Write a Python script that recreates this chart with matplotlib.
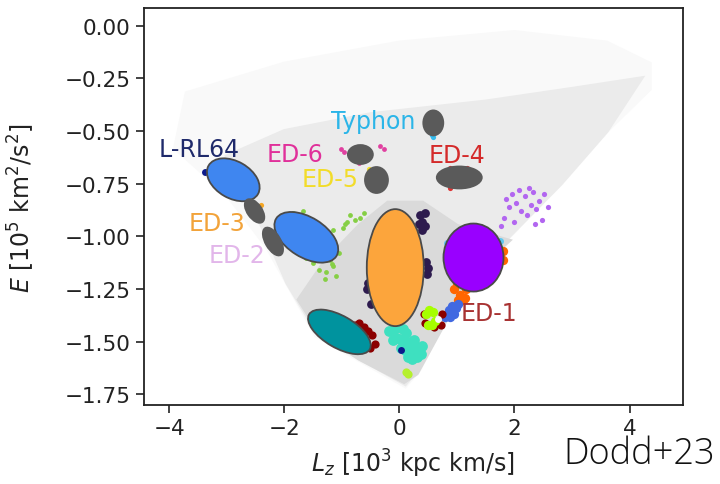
#!/usr/bin/env python3
"""
E-Lz plane with the halo substructures of Dodd+23, ellipses marking the groups.
Writes out.png (720x485).
"""

import matplotlib
matplotlib.use("Agg")
import matplotlib.pyplot as plt
import matplotlib.transforms as mtransforms
from matplotlib.patches import Ellipse, Polygon

# ---- halo background (envelope, outer -> inner) ----
halo_faint_x = [0.10, -1.45, -2.3, -3.0, -3.9, -3.7, -2.0, 0.0, 2.0, 3.6, 4.35, 4.35, 3.6, 2.8, 1.9, 1.0, 0.35]
halo_faint_y = [-1.71, -1.47, -1.05, -0.80, -0.58, -0.32, -0.18, -0.08, -0.03, -0.08, -0.18, -0.3, -0.5, -0.75, -1.0, -1.27, -1.63]
halo_mid_x = [0.10, -1.40, -1.95, -2.3, -2.7, -3.0, -2.0, -0.5, 1.5, 3.0, 4.2, 3.6, 2.8, 1.9, 1.05, 0.35]
halo_mid_y = [-1.70, -1.47, -1.22, -1.0, -0.78, -0.62, -0.50, -0.42, -0.36, -0.30, -0.25, -0.5, -0.75, -1.0, -1.25, -1.62]
halo_core_x = [0.08, -0.7, -1.4, -1.75, -1.3, -0.7, -0.2, 0.4, 1.0, 1.9, 1.5, 1.0, 0.30]
halo_core_y = [-1.69, -1.58, -1.45, -1.30, -1.12, -0.95, -0.84, -0.84, -0.95, -1.02, -1.12, -1.30, -1.65]

# ---- coloured member stars (x = Lz, y = E) ----
green_x = [-1.85, -1.75, -1.67, -1.62, -1.50, -1.40, -1.27, -1.21, -1.15, -1.10, -1.12, -1.06,
           -0.98, -0.92, -0.86, -0.78, -0.69, -0.62, -1.16, -1.30, -1.18, -0.95]
green_y = [-0.89, -0.92, -0.88, -1.10, -1.125, -1.16, -1.17, -1.11, -1.14, -1.19, -1.05, -1.08,
           -0.96, -0.93, -0.90, -0.92, -0.91, -0.89, -0.97, -1.20, -1.13, -0.94]
dkpurple_x = [0.36, 0.40, 0.44, 0.40, 0.34, 0.45, 0.46, 0.49, 0.47, -0.57, -0.54, -0.49]
dkpurple_y = [-0.90, -0.93, -0.95, -0.97, -0.94, -0.89, -1.12, -1.15, -1.18, -1.25, -1.22, -1.32]
ltpurple_x = [1.76, 1.82, 1.90, 1.95, 2.02, 2.08, 2.12, 2.18, 2.22, 2.28, 2.33, 2.38, 2.42, 2.48,
              2.52, 2.58, 1.86, 2.00, 2.25, 2.36]
ltpurple_y = [-0.95, -0.91, -0.86, -0.80, -0.84, -0.78, -0.88, -0.81, -0.90, -0.85, -0.79, -0.87,
              -0.83, -0.92, -0.80, -0.86, -0.82, -0.93, -0.77, -0.94]
orange_x = [0.95, 1.00, 1.05, 1.10, 1.15, 1.20, 1.25, 1.02, 1.08, 1.14, 1.80, 1.80]
orange_y = [-1.25, -1.22, -1.28, -1.30, -1.25, -1.22, -1.21, -1.30, -1.21, -1.29, -1.07, -1.11]
skyblue_x = [0.82, 0.84, 1.75, 1.73]
skyblue_y = [-1.03, -1.06, -1.02, -1.05]
royal_x = [0.80, 0.86, 0.92, 0.98, 1.02, 0.88, 0.95]
royal_y = [-1.38, -1.35, -1.33, -1.34, -1.32, -1.38, -1.37]
chartreuse_x = [0.46, 0.52, 0.58, 0.62, 0.50, 0.57]
chartreuse_y = [-1.37, -1.35, -1.36, -1.40, -1.42, -1.42]
dkred_x = [0.42, 0.44, 0.72, 0.74, 0.60, -0.78, -0.70, -0.62, -0.55, -0.48, -0.42, -0.60, -0.52]
dkred_y = [-1.37, -1.41, -1.42, -1.37, -1.43, -1.42, -1.41, -1.43, -1.45, -1.47, -1.51, -1.50, -1.53]
white_x = [0.67]
white_y = [-1.394]
aqua_x = [-0.18, -0.10, -0.02, 0.06, 0.12, -0.12, -0.04, 0.04, 0.12, 0.20, 0.26, 0.02, 0.10,
          0.18, 0.26, 0.34, 0.40, 0.14, 0.22, 0.30, 0.38]
aqua_y = [-1.45, -1.44, -1.43, -1.44, -1.46, -1.49, -1.48, -1.49, -1.50, -1.50, -1.49, -1.53,
          -1.54, -1.54, -1.53, -1.53, -1.52, -1.57, -1.58, -1.57, -1.56]
navy_x = [0.02, -3.38]
navy_y = [-1.54, -0.694]
ygreen_x = [0.11, 0.15]
ygreen_y = [-1.645, -1.655]
magenta_x = [-1.02, -0.97, -0.34, -0.27, -0.71]
magenta_y = [-0.583, -0.60, -0.57, -0.583, -0.649]
cyan_x = [0.59, 0.56]
cyan_y = [-0.53, -0.52]
red_x = [0.88, 1.17, 0.88]
red_y = [-0.673, -0.673, -0.768]
yellow_x = [-0.53]
yellow_y = [-0.681]
ed3_x = [-2.40]
ed3_y = [-0.852]

# ---- ellipses marking the groups: centre (data), size (px at 100 dpi), tilt ----
ell_x = [-2.89, -1.62, -2.52, -2.20, -0.68, -0.40, 0.588, 1.04, -0.073, 1.287, -1.045]
ell_y = [-0.731, -1.004, -0.879, -1.024, -0.611, -0.732, -0.461, -0.72, -1.148, -1.10, -1.453]
ell_w = [57, 71, 27, 31, 25, 23, 20, 45, 57, 60, 70]
ell_h = [37, 40, 14.5, 15, 19, 26, 25, 22, 117, 68, 32]
ell_angle = [-30, -32, -55, -60, 0, 0, 0, 0, 0, 0, -30]
ell_color = ["#3f86f0", "#3f86f0", "#5a5a5a", "#5a5a5a", "#5a5a5a", "#5a5a5a",
             "#5a5a5a", "#5a5a5a", "#fca53c", "#9900ff", "#00939e"]
ell_edge = [True, True, False, False, False, False, False, False, True, True, True]

# ---- group names ----
label_text = ["Typhon", "L-RL64", "ED-6", "ED-5", "ED-4", "ED-3", "ED-2", "ED-1"]
label_x = [-0.45, -3.48, -1.82, -1.21, 1.00, -3.18, -2.83, 1.555]
label_y = [-0.453, -0.586, -0.610, -0.726, -0.615, -0.938, -1.09, -1.361]
label_color = ["#2bb5e8", "#1f2a6b", "#e0309a", "#f2dc2a", "#d42a2a", "#f2a33a", "#e2b6ea", "#a83232"]

# (x, y, colour, marker size)
POINT_GROUPS = [
    (green_x, green_y, "#86cf45", 12),
    (dkpurple_x, dkpurple_y, "#2d1b4e", 40),
    (ltpurple_x, ltpurple_y, "#b266f0", 14),
    (orange_x, orange_y, "#ff6600", 45),
    (skyblue_x, skyblue_y, "#5ec8f0", 25),
    (royal_x, royal_y, "#4169e1", 45),
    (dkred_x, dkred_y, "#8b0000", 35),
    (chartreuse_x, chartreuse_y, "#a6ff00", 45),
    (white_x, white_y, "#f8f8f8", 25),
    (aqua_x, aqua_y, "#3ee0c0", 60),
    (navy_x, navy_y, "#0b1a8c", 25),
    (ygreen_x, ygreen_y, "#b5f02d", 35),
    (magenta_x, magenta_y, "#e040a0", 12),
    (cyan_x, cyan_y, "#33bbee", 14),
    (red_x, red_y, "#dd3333", 14),
    (yellow_x, yellow_y, "#f5e028", 14),
    (ed3_x, ed3_y, "#f5a623", 14),
]


def main():
    fig = plt.figure(figsize=(7.2, 4.85), dpi=100)
    ax = fig.add_axes([0.1994, 0.1629, 0.7492, 0.8179])

    # halo envelope, three shades
    for hx, hy, shade in [(halo_faint_x, halo_faint_y, "#f9f9f9"),
                          (halo_mid_x, halo_mid_y, "#ebebeb"),
                          (halo_core_x, halo_core_y, "#dadada")]:
        ax.add_patch(Polygon(list(zip(hx, hy)), closed=True, facecolor=shade,
                             edgecolor=shade, linewidth=3, zorder=1))

    for px, py, colour, size in POINT_GROUPS:
        ax.scatter(px, py, s=size, color=colour, linewidths=0, zorder=2)

    for txt, tx, ty, colour in zip(label_text, label_x, label_y, label_color):
        ax.text(tx, ty, txt, color=colour, fontsize=17, ha="center", va="center", zorder=3)

    # ellipses sized in pixels so the tilt is not skewed by the axis aspect
    for ex, ey, w, h, ang, colour, edge in zip(ell_x, ell_y, ell_w, ell_h, ell_angle,
                                              ell_color, ell_edge):
        trans = fig.dpi_scale_trans + mtransforms.ScaledTranslation(ex, ey, ax.transData)
        ax.add_patch(Ellipse((0, 0), w / 100, h / 100, angle=ang, transform=trans,
                             facecolor=colour,
                             edgecolor="#4a4a4a" if edge else colour,
                             linewidth=1.3, zorder=4))

    ax.set_xlim(-4.45, 4.93)
    ax.set_ylim(-1.80, 0.083)
    ax.set_xticks([-4, -2, 0, 2, 4])
    ax.set_yticks([0.0, -0.25, -0.5, -0.75, -1.0, -1.25, -1.5, -1.75])
    ax.set_yticklabels(["0.00", "\u22120.25", "\u22120.50", "\u22120.75", "\u22121.00",
                        "\u22121.25", "\u22121.50", "\u22121.75"])
    ax.tick_params(labelsize=15.5, length=6, width=1.2, color="#222222", labelcolor="#222222")
    for sp in ax.spines.values():
        sp.set_linewidth(1.3)
        sp.set_color("#222222")

    ax.set_xlabel(r"$L_z$ [$10^3$ kpc km/s]", fontsize=17, color="#222222", labelpad=6)
    ax.set_ylabel(r"$E$ [$10^5$ km$^2$/s$^2$]", fontsize=17, color="#222222")
    ax.yaxis.set_label_coords(-0.198, 0.5)

    fig.text(0.993, 1 - 464.0 / 485, "Dodd+23", fontsize=26, family="Open Sans",
             fontweight="light", ha="right", va="baseline", color="#111111")

    fig.savefig("out.png", dpi=100)
    plt.close(fig)


if __name__ == "__main__":
    main()
